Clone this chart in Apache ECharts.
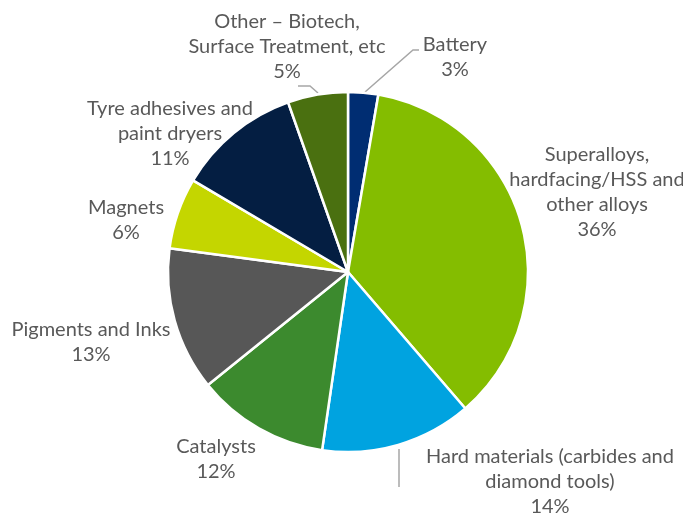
<!DOCTYPE html>
<html>
<head>
<meta charset="UTF-8">
<title>Uses</title>
<script src="https://cdn.jsdelivr.net/npm/echarts@6/dist/echarts.min.js"></script>
<style>
  html, body { margin: 0; padding: 0; background: #fff; }
  #chart { width: 683px; height: 516px; }
</style>
</head>
<body>
<div id="chart"></div>
<script type="text/javascript">
  var categories = [
    'Battery',
    'Superalloys,\nhardfacing/HSS and\nother alloys',
    'Hard materials (carbides and\ndiamond tools)',
    'Catalysts',
    'Pigments and Inks',
    'Magnets',
    'Tyre adhesives and\npaint dryers',
    'Other \u2013 Biotech,\nSurface Treatment, etc'
  ];
  // shares (labels show them rounded)
  var shares = [2.7, 36.0, 13.6, 11.9, 12.9, 6.4, 11.1, 5.4];
  var colors = ['#002d72', '#84bd00', '#00a3e0', '#3c8a2e', '#575757', '#c4d600', '#041e42', '#4a7010'];
  // where Excel put each label (centre of the text block)
  var labelPos = [[455, 57], [597, 192], [550, 482], [216, 459], [91, 342], [126, 220], [170, 134], [287, 47]];
  // leader lines, only three labels have one
  var leaders = {
    0: [[365, 92], [413, 50], [419, 50]],
    2: [[399, 449], [399, 487]],
    7: [[318, 93], [310, 86], [298, 86]]
  };

  var data = [];
  for (var i = 0; i < categories.length; i++) {
    data.push({
      name: categories[i],
      value: shares[i],
      itemStyle: { color: colors[i] },
      labelLine: { show: !!leaders[i] }
    });
  }

  var myChart = echarts.init(document.getElementById('chart'));
  var option = {
    animation: false,
    series: [{
      type: 'pie',
      center: [348, 272],
      radius: [0, 180],
      startAngle: 90,
      clockwise: true,
      data: data,
      itemStyle: { borderColor: '#ffffff', borderWidth: 2.5 },
      label: {
        show: true,
        position: 'outside',
        formatter: function (p) { return p.name + '\n' + Math.round(p.value) + '%'; },
        color: '#595959',
        fontFamily: 'Lato',
        fontSize: 20,
        lineHeight: 25,
        align: 'center',
        overflow: 'none'
      },
      labelLine: {
        show: true,
        length: 10,
        length2: 10,
        lineStyle: { color: '#a6a6a6', width: 1.5 }
      },
      labelLayout: function (params) {
        var p = labelPos[params.dataIndex];
        var res = { x: p[0], y: p[1], align: 'center', verticalAlign: 'middle' };
        if (leaders[params.dataIndex]) res.labelLinePoints = leaders[params.dataIndex];
        return res;
      }
    }]
  };
  myChart.setOption(option);
</script>
</body>
</html>
